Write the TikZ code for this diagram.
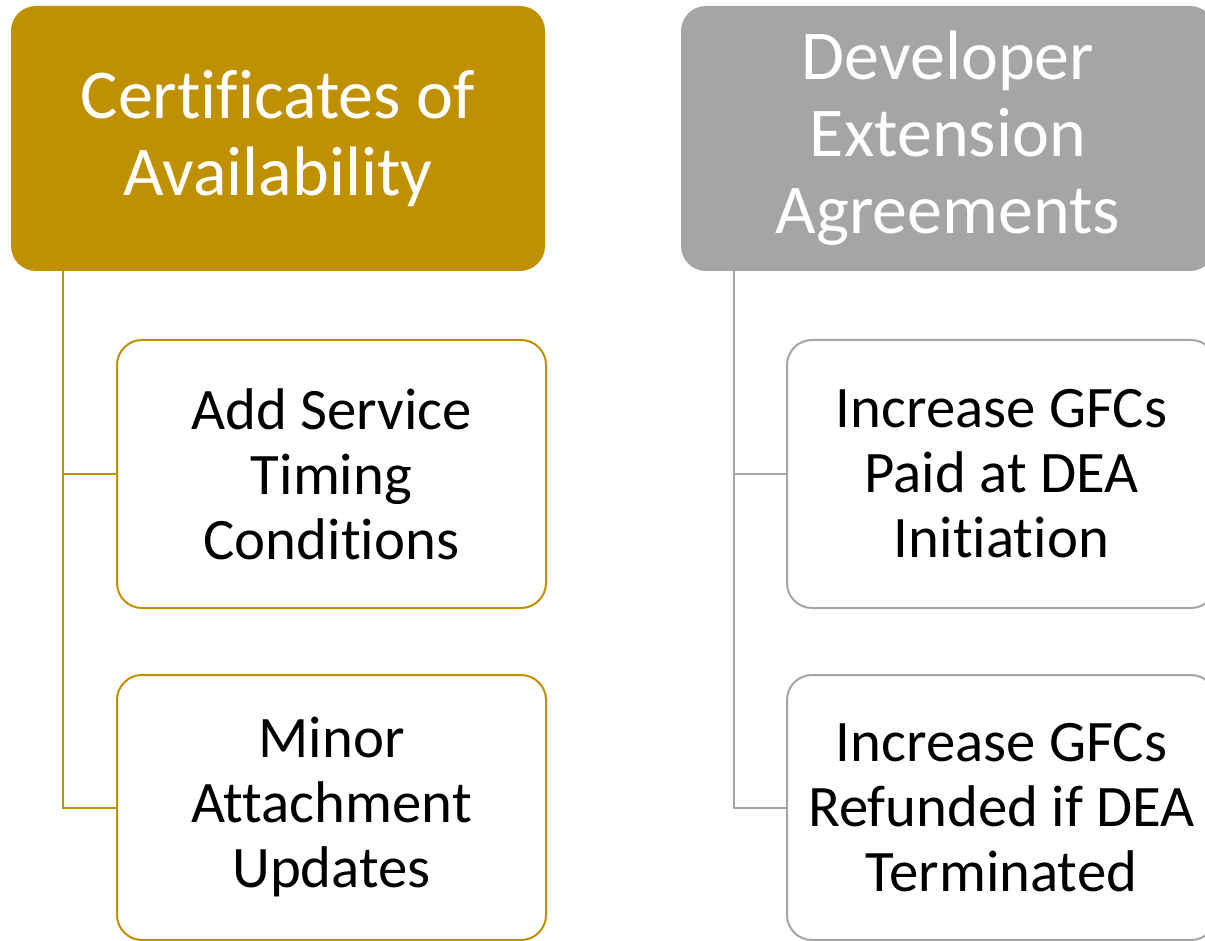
\documentclass[tikz,border=0pt]{standalone}
\usepackage{fontspec}
\setmainfont{Carlito}[RawFeature={-liga;-clig;-dlig;-calt}]
\definecolor{gold}{HTML}{BF9000}
\definecolor{greyc}{HTML}{A5A5A5}
\tikzset{
  headbox/.style={rectangle, rounded corners=25pt, minimum width=534pt, minimum height=265pt,
    inner sep=0pt, text=white, align=center, font=\fontsize{70}{77}\selectfont},
  childbox/.style={rectangle, rounded corners=25pt, fill=white, line width=2pt, minimum width=429pt,
    inner sep=0pt, align=center, font=\fontsize{58.8}{65}\selectfont},
  conn/.style={line width=2pt}
}
\begin{document}
\begin{tikzpicture}[x=1pt,y=-1pt]
\useasboundingbox (0,0) rectangle (1205,941);
\clip (0,0) rectangle (1205,941);
% left column
\node[headbox, fill=gold] (g) at (278,138.5) {Certificates of\\Availability};
\node[childbox, draw=gold, minimum height=268pt] (g1) at (331.5,474) {Add Service\\Timing\\Conditions};
\node[childbox, draw=gold, minimum height=265pt] (g2) at (331.5,807.5) {Minor\\Attachment\\Updates};
\coordinate (gl) at (63,271);
\draw[conn, gold] (gl) |- (g1.west);
\draw[conn, gold] (gl) |- (g2.west);
% right column
\node[headbox, fill=greyc] (d) at (948,138.5) {Developer\\Extension\\Agreements};
\node[childbox, draw=greyc, minimum height=268pt] (d1) at (1001.5,474) {Increase GFCs\\Paid at DEA\\Initiation};
\node[childbox, draw=greyc, minimum height=265pt] (d2) at (1001.5,807.5) {Increase GFCs\\Refunded if DEA\\Terminated};
\coordinate (dl) at (734,271);
\draw[conn, greyc] (dl) |- (d1.west);
\draw[conn, greyc] (dl) |- (d2.west);
\end{tikzpicture}
\end{document}
